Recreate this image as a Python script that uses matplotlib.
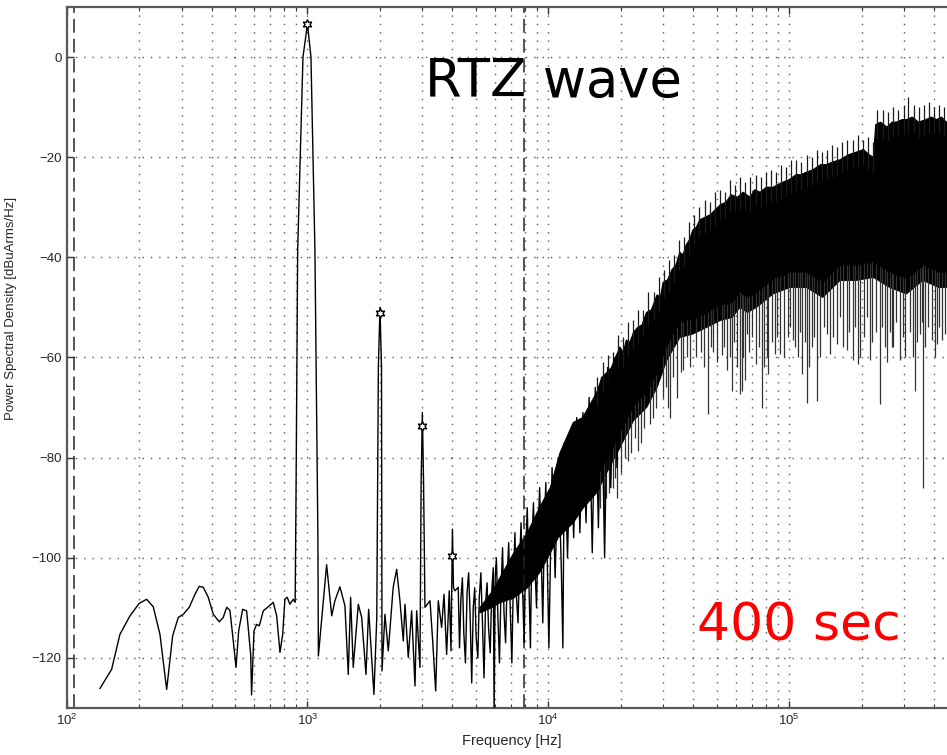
import numpy as np
import matplotlib
matplotlib.use("Agg")
import matplotlib.pyplot as plt

# ---------------- data ----------------
# continuous PSD trace: low-frequency part, harmonics and the sparse noise region
line_freq = [137.5, 153.7, 166.4, 183.2, 200.2, 214.8, 228.9, 244, 260.2, 275.5, 290.8, 305,
             322.9, 341, 355.3, 369.2, 387.3, 406.3, 430.3, 447, 461.8, 476.4, 491.9, 505,
             518, 538, 559, 581, 586, 599.7, 615, 631, 655.5, 687, 721, 745, 769, 789, 806,
             824, 845.5, 873, 889, 896, 910.6, 958, 1000, 1034, 1074, 1105, 1110, 1201, 1261,
             1300, 1364, 1431, 1477, 1511, 1549, 1626, 1679, 1750, 1795, 1888, 1940, 1970,
             2000, 2030, 2040, 2098, 2166, 2270, 2347, 2421, 2500, 2541, 2622, 2708, 2796,
             2841, 2932, 2965, 3000, 3035, 3076, 3228, 3311, 3408, 3494, 3607, 3690, 3784,
             3880, 3945, 4000, 4040, 4100, 4228,
             4280, 4340, 4400, 4460, 4530, 4600, 4670, 4740, 4810, 4880, 4950, 5020, 5100,
             5170, 5250, 5330, 5410, 5490, 5570, 5650, 5740, 5820, 5910, 5960, 6020, 6090,
             6180, 6270, 6360, 6460, 6550, 6650, 6750, 6850, 6950, 7060, 7160, 7270, 7380,
             7490, 7600, 7710, 7820, 7940, 8060, 8180, 8300, 8430, 8550, 8680, 8810, 8940,
             9070, 9210, 9350, 9490, 9630, 9770, 9910, 10060, 10370, 10680, 11000, 11330,
             11500, 11670, 12020, 12380, 12750, 13130, 13530, 13930, 14350, 14780, 15230,
             15680, 16150, 16640, 17140, 17650, 18180, 18730, 19290, 19870]
line_psd = [-126.1, -122.3, -115.3, -111.6, -109.1, -108.3, -109.8, -115.3, -126.3, -115.6,
            -111.9, -111.3, -109.9, -107.3, -105.7, -105.9, -107.9, -111.3, -112.8, -111.9,
            -109.9, -110.5, -116.6, -121.9, -114.6, -110.3, -110.6, -119.3, -127.4, -114.6,
            -113.3, -113.6, -110.6, -109.8, -108.9, -111.6, -118.9, -115.3, -108.3, -107.9,
            -109.3, -108.3, -108.9, -88.6, -38.6, 0.0, 6.6, 0.0, -38.6, -96, -119.6, -101.4,
            -111.6, -108.6, -105.8, -109.6, -123.3, -107.9, -121.9, -109.3, -111.9, -123.3,
            -110.3, -127.3, -112, -62, -50, -62, -122.6, -111.3, -118.6, -105.9, -102.3,
            -108.6, -116.6, -109.3, -119.9, -110.6, -125.6, -110.6, -121.9, -85, -71, -85,
            -109.9, -108.6, -116.6, -126.6, -108.6, -113.9, -107.3, -119.3, -106.6, -118.6,
            -94.3, -106, -106.6, -105.9,
            -118, -108, -104, -115, -121, -107, -103, -112, -125, -110, -106, -116, -120,
            -108, -103, -113, -124, -109, -105, -114, -119, -107, -102, -132, -104, -100,
            -112, -121, -107, -98, -111, -117, -104, -97, -110, -121, -105, -95, -108, -113,
            -101, -93, -106, -117, -99, -90, -104, -118, -97, -89, -102, -110, -95, -86,
            -100, -113, -94, -85, -101, -118, -82, -104, -80, -102, -118, -77, -100, -75,
            -96, -72, -95, -71, -93, -68, -99, -66, -94, -64, -100, -62, -86, -60, -82, -58]

# dense noise band: upper and lower edge of the solid black core
band_upper_freq = [5200, 5800, 6300, 7200, 8200, 9200, 10200, 11200, 12700, 13900, 15900,
                   16700, 17500, 18300, 19000, 19850, 20500, 21100, 21800, 22600, 23500, 24500,
                   25600, 26800, 28300, 29200, 30000, 31300, 32600, 33900, 35200, 36300, 37400,
                   38600, 39900, 41200, 42600, 44800, 47000, 49400, 51800, 54700, 57500, 61000,
                   64500, 68800, 72000, 75800, 80500, 85800, 90000, 94300, 100000, 107000,
                   112000, 118000, 126000, 135000, 143000, 151000, 163000, 177000, 190000,
                   204000, 215000, 224000, 229000, 240000, 255000, 268000, 280000, 295000,
                   307000, 325000, 345000, 370000, 390000, 410000, 430000, 450000, 498000]
band_upper_psd = [-110, -107, -104, -99, -95, -90, -86, -79, -73, -72, -67, -64, -63,
                  -62, -60, -58, -59, -56.5, -57, -55, -54, -53.5, -51, -50.5, -47.5, -48,
                  -45, -44.5, -42.5, -41.5, -39, -39.5, -37.5, -36.5, -34.5, -34, -32.5, -32,
                  -31.5, -30.5, -29.5, -29, -27.5, -28, -27, -28, -26.5, -27, -26, -26, -25.5,
                  -25, -24.5, -23.5, -23.5, -23, -22.5, -21.5, -21.5, -21, -20.5, -19.5, -19,
                  -18.5, -19.5, -20, -13.5, -13, -14, -13, -13, -12.5, -12.5, -12, -13, -12.5,
                  -12, -12.5, -12, -13, -13]
band_lower_freq = [5200, 5800, 6300, 7200, 8200, 9200, 10200, 11000, 12700, 14000, 15900,
                   17500, 19850, 22600, 25600, 28300, 31000, 35200, 39900, 45400, 51800, 58100,
                   62500, 67200, 73200, 85800, 101000, 118000, 138000, 163000, 190000, 224000,
                   262000, 307000, 360000, 418000, 498000]
band_lower_psd = [-111, -110, -109, -108, -106, -103, -99, -96, -93, -90, -87, -83, -78,
                  -72.6, -70, -66, -60.6, -56, -55.3, -54, -52.6, -52, -50, -51, -50, -47.3,
                  -46, -46, -48, -44.6, -44.6, -44, -46, -47.3, -44.6, -46, -46]

# individual downward spikes below the dense band
spike_down_freq = [16400, 17000, 17400, 17900, 18500, 18900, 19300, 20100, 20800, 21430, 22000,
                   22900, 23580, 24300, 25000, 26450, 27200, 28000, 29950, 30800, 31300, 32020,
                   33000, 34230, 35500, 36260, 37800, 38900, 41000, 43000, 44300, 46050, 47200,
                   48310, 50300, 52650, 53900, 55230, 56600, 57940, 59300, 60800, 62550, 63760,
                   64600, 65610, 66880, 68300, 70400, 72880, 75000, 77190, 79000, 80960, 81740,
                   84600, 87400, 89500, 91650, 95000, 98970, 100600, 103800, 106000, 108900,
                   110800, 113100, 116000, 118700, 121300, 124500, 127000, 130600, 134000,
                   139500, 143700, 147900, 152000, 158100, 162000, 168000, 174000, 178000,
                   184200, 188000, 193300, 197000, 205000, 210000, 216800, 222000, 229000,
                   238500, 244000, 250200, 256000, 262000, 267500, 270100, 278000, 288800,
                   296000, 304000, 318000, 326900, 333400, 340000, 349600, 355000, 359800,
                   368000, 378000, 392200, 402000, 411400, 421000, 431500, 444200, 455000,
                   470000, 488000]
spike_down_psd = [-90, -92, -88, -87, -86, -84, -88, -83, -80, -80.6, -79, -76, -78.6, -77,
                  -74, -73.3, -72, -70, -68, -66, -70, -72, -64, -68, -63, -62.6, -60, -62,
                  -60, -59, -62, -71.3, -58, -59, -61, -59.6, -58, -62.6, -60, -66.6, -57, -62,
                  -67.3, -66.6, -60, -64.6, -55.3, -59, -56, -61.3, -58, -70, -62, -59.9,
                  -63.3, -57, -59.3, -56, -59.3, -60, -56, -54, -56.6, -58, -60, -55, -63.3,
                  -57, -69, -62, -57.9, -56, -68.6, -60, -54, -55.3, -59.3, -56, -57.3, -52,
                  -58, -58.6, -55, -60.6, -54, -61.3, -59.9, -56, -52, -60.6, -57, -55, -69.3,
                  -54, -57.9, -61, -55, -57.9, -58, -53, -60.6, -56, -60, -55, -59.9, -66.6,
                  -57, -55.3, -53, -86, -58, -54, -56.6, -60, -57.3, -54, -56.6, -55.3, -57,
                  -53, -55]

# individual upward spikes above the dense band
spike_up_freq = [16000, 16800, 17640, 18520, 19450, 20420, 21440, 22510, 23640, 24820, 26060,
                 27360, 28730, 30170, 31680, 33260, 34920, 36670, 38500, 40430, 42450, 44570,
                 46800, 49140, 51600, 54180, 56890, 59730, 62720, 65860, 69150, 72610, 76240,
                 80050, 84050, 88250, 92670, 97300, 102200, 107300, 112600, 118300, 124200,
                 130400, 136900, 143800, 151000, 158500, 166400, 174700, 183500, 192600,
                 202300, 212400, 223000, 231800, 245900, 258200, 271100, 284600, 298800,
                 311900, 329500, 345900, 363200, 381400, 400500, 420500, 441500, 463600,
                 486800]
spike_up_psd = [-64, -61, -59.5, -59, -55.5, -56, -53, -52.5, -50.5, -50.5, -47, -47, -44,
                -42.5, -40.5, -39.5, -36.5, -36, -33, -31.5, -30, -28.5, -29, -27, -26.5, -27,
                -24.5, -25.5, -24, -25, -24, -23.5, -24, -23, -22.5, -23, -21.5, -22, -20.5,
                -20.5, -21, -19.5, -20, -18.5, -19, -18.5, -17.5, -18, -17, -16.5, -16.5,
                -15.5, -16.6, -16, -17, -10.6, -10.5, -11, -10, -10.5, -9.5, -8, -9.5, -10,
                -9.5, -9, -10, -9.5, -10, -10.5, -10]

# harmonic markers
harm_freq = [1000, 2000, 3000, 4000]
harm_psd = [6.6, -51.2, -73.6, -99.6]

# vertical dashed reference lines
ref_freq = [107, 7900]

y_ticks = [-120, -100, -80, -60, -40, -20, 0]

# ---------------- figure ----------------
plt.rcParams['font.family'] = ['Liberation Sans', 'DejaVu Sans']
fig = plt.figure(figsize=(9.47, 7.55), dpi=100)
ax = fig.add_axes([0.0704, 0.0623, 0.9401, 0.9285])
ax.set_xscale('log')
ax.set_xlim(100, 498000)
ax.set_ylim(-130, 10)

# grid
ax.grid(which='both', axis='x', linestyle=(0, (1, 5)), linewidth=1.0, color='0.35')
ax.grid(which='major', axis='y', linestyle=(0, (1, 5)), linewidth=1.0, color='0.35')
ax.set_axisbelow(True)

# dense band
poly_f = list(band_upper_freq) + list(band_lower_freq[::-1])
poly_p = list(band_upper_psd) + list(band_lower_psd[::-1])
ax.fill(poly_f, poly_p, color='black', linewidth=0.8, edgecolor='black', zorder=2)

lf_low = np.log10(band_lower_freq)
lf_up = np.log10(band_upper_freq)
base_down = np.interp(np.log10(spike_down_freq), lf_low, band_lower_psd) + 3
base_up = np.interp(np.log10(spike_up_freq), lf_up, band_upper_psd) - 3
ax.vlines(spike_down_freq, spike_down_psd, base_down, color='0.2', linewidth=0.9, zorder=2)
ax.vlines(spike_up_freq, base_up, spike_up_psd, color='0.1', linewidth=0.9, zorder=2)

# main trace
ax.plot(line_freq, line_psd, color='black', linewidth=1.0, zorder=3)

# harmonic stars
ax.plot(harm_freq, harm_psd, linestyle='none', marker=(6, 1, 0), markersize=7,
        markerfacecolor='white', markeredgecolor='black', markeredgewidth=1.0, zorder=4)

for f in ref_freq:
    ax.axvline(f, color='0.15', linewidth=1.1, linestyle=(0, (9, 4)), zorder=2)

# axes styling
ax.set_yticks(y_ticks)
for side in ['top', 'left', 'bottom', 'right']:
    ax.spines[side].set_color('0.35')
    ax.spines[side].set_linewidth(1.6)
ax.tick_params(which='both', direction='in', top=True, right=True, colors='0.2',
               labelsize=9.5, labelcolor='0.15')
ax.tick_params(which='major', length=5, width=1.0)
ax.tick_params(which='minor', length=3, width=0.8)

ax.set_xlabel('Frequency [Hz]', fontsize=10.5, color='0.15', labelpad=4)
ax.set_ylabel('Power Spectral Density [dBuArms/Hz]', fontsize=9.5, color='0.15')
ax.yaxis.set_label_coords(-0.056, 0.57)

fig.text(0.4488, 0.8715, 'RTZ wave', fontsize=38, color='black',
         family='DejaVu Sans', va='baseline', ha='left')
fig.text(0.7360, 0.1523, '400 sec', fontsize=37.5, color='#ff0000',
         family='DejaVu Sans', va='baseline', ha='left')

fig.savefig('out.png', dpi=100)
